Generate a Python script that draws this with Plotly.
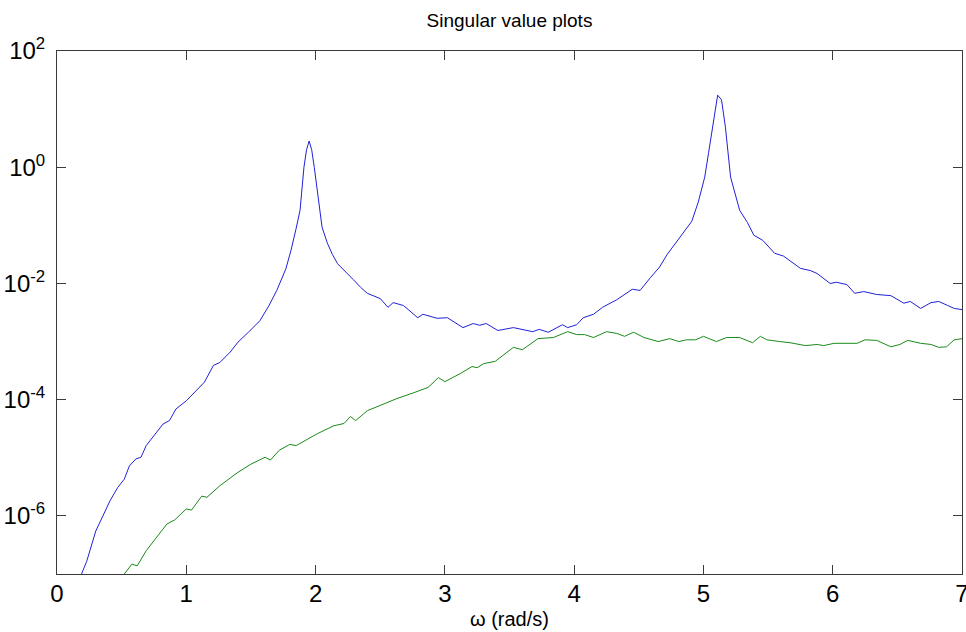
import plotly.graph_objects as go

# frequency (rad/s) and log10 of singular values
w_sv1 = [0.12, 0.19, 0.23, 0.30, 0.41, 0.47, 0.52, 0.56, 0.61, 0.65, 0.69, 0.77, 0.82, 0.87, 0.92,
         1.00, 1.08, 1.14, 1.21, 1.26, 1.34, 1.40, 1.48, 1.57, 1.64, 1.70, 1.77, 1.81, 1.85, 1.88,
         1.91, 1.93, 1.95, 1.97, 1.99, 2.02, 2.05, 2.09, 2.13, 2.17, 2.22, 2.29, 2.35, 2.40, 2.50,
         2.56, 2.60, 2.68, 2.79, 2.83, 2.94, 3.02, 3.14, 3.22, 3.27, 3.32, 3.41, 3.53, 3.68, 3.73,
         3.80, 3.91, 3.95, 4.02, 4.07, 4.15, 4.22, 4.33, 4.45, 4.51, 4.59, 4.66, 4.72, 4.84, 4.91,
         4.96, 5.01, 5.04, 5.07, 5.11, 5.14, 5.17, 5.21, 5.28, 5.34, 5.39, 5.46, 5.55, 5.62, 5.75,
         5.83, 5.88, 5.98, 6.03, 6.11, 6.17, 6.24, 6.34, 6.45, 6.55, 6.60, 6.68, 6.76, 6.82, 6.89,
         6.94, 7.00]
log_sv1 = [-7.6, -7.00, -6.78, -6.26, -5.74, -5.51, -5.37, -5.14, -5.02, -4.99, -4.79, -4.56, -4.42, -4.36, -4.16,
           -4.02, -3.84, -3.70, -3.41, -3.36, -3.18, -3.01, -2.84, -2.64, -2.38, -2.12, -1.75, -1.43, -1.05, -0.74,
           0.00, 0.30, 0.45, 0.30, 0.00, -0.55, -1.03, -1.30, -1.50, -1.66, -1.78, -1.93, -2.07, -2.17, -2.26,
           -2.41, -2.33, -2.38, -2.59, -2.53, -2.60, -2.59, -2.76, -2.69, -2.72, -2.69, -2.81, -2.76, -2.83, -2.79,
           -2.84, -2.71, -2.76, -2.71, -2.59, -2.53, -2.41, -2.28, -2.10, -2.12, -1.90, -1.72, -1.50, -1.14, -0.93,
           -0.60, -0.17, 0.25, 0.69, 1.24, 1.16, 0.69, -0.17, -0.74, -0.95, -1.17, -1.26, -1.48, -1.53, -1.74,
           -1.78, -1.83, -2.00, -1.98, -2.02, -2.17, -2.14, -2.19, -2.21, -2.34, -2.31, -2.43, -2.33, -2.31, -2.38,
           -2.43, -2.45]

w_sv2 = [0.45, 0.52, 0.58, 0.62, 0.69, 0.77, 0.85, 0.91, 1.00, 1.04, 1.12, 1.16, 1.26, 1.40, 1.50,
         1.61, 1.65, 1.72, 1.80, 1.85, 1.94, 2.01, 2.14, 2.22, 2.27, 2.31, 2.40, 2.53, 2.63, 2.76,
         2.87, 2.95, 3.00, 3.12, 3.21, 3.25, 3.30, 3.39, 3.45, 3.53, 3.60, 3.66, 3.72, 3.84, 3.95,
         4.02, 4.08, 4.15, 4.25, 4.33, 4.39, 4.46, 4.54, 4.65, 4.74, 4.81, 4.87, 4.94, 5.00, 5.10,
         5.18, 5.28, 5.38, 5.44, 5.49, 5.59, 5.67, 5.79, 5.88, 5.93, 6.01, 6.19, 6.25, 6.34, 6.45,
         6.52, 6.58, 6.68, 6.76, 6.82, 6.88, 6.94, 7.00]
log_sv2 = [-7.4, -7.00, -6.83, -6.86, -6.60, -6.37, -6.14, -6.07, -5.88, -5.90, -5.66, -5.68, -5.48, -5.25, -5.11,
           -4.99, -5.04, -4.87, -4.77, -4.79, -4.68, -4.59, -4.45, -4.41, -4.29, -4.36, -4.19, -4.07, -3.98, -3.88,
           -3.79, -3.62, -3.69, -3.55, -3.43, -3.45, -3.38, -3.34, -3.24, -3.10, -3.14, -3.05, -2.95, -2.93, -2.83,
           -2.88, -2.88, -2.93, -2.83, -2.86, -2.91, -2.84, -2.93, -3.00, -2.95, -3.00, -2.97, -2.97, -2.91, -3.00,
           -2.93, -2.93, -3.02, -2.91, -2.97, -3.00, -3.02, -3.07, -3.05, -3.07, -3.03, -3.03, -2.97, -2.98, -3.09,
           -3.05, -2.98, -3.03, -3.05, -3.10, -3.09, -2.97, -2.95]

x_ticks = [0, 1, 2, 3, 4, 5, 6, 7]
y_tick_exp = [-6, -4, -2, 0, 2]

sv1 = [10 ** v for v in log_sv1]
sv2 = [10 ** v for v in log_sv2]

FONT = "Liberation Sans, Arial, Helvetica, sans-serif"
AX = "#3a3a3a"

fig = go.Figure()
fig.add_trace(go.Scatter(x=w_sv1, y=sv1, mode="lines",
                         line=dict(color="#2020d8", width=1), showlegend=False))
fig.add_trace(go.Scatter(x=w_sv2, y=sv2, mode="lines",
                         line=dict(color="#1a8a1a", width=1), showlegend=False))

fig.update_layout(
    width=966, height=632,
    margin=dict(l=57, r=4, t=51, b=58),
    paper_bgcolor="white", plot_bgcolor="white",
    font=dict(family=FONT, color="black"),
    title=dict(text="Singular value plots", x=0.5, xref="paper", xanchor="center",
               y=1 - 20 / 632, yref="container", yanchor="middle",
               font=dict(size=19, family=FONT, color="black")),
)
fig.update_xaxes(range=[0, 7], tickvals=x_ticks, ticktext=[str(v) for v in x_ticks],
                 showgrid=False, zeroline=False, showline=True, linecolor=AX, linewidth=1,
                 mirror="ticks", ticks="inside", ticklen=9, tickcolor=AX,
                 ticklabeloverflow="allow", automargin=False,
                 tickfont=dict(size=24, family=FONT, color="black"), ticklabelstandoff=-2)
fig.update_yaxes(type="log", range=[-7, 2], tickvals=[10 ** e for e in y_tick_exp],
                 ticktext=["10<sup>%d</sup>" % e for e in y_tick_exp],
                 showgrid=False, zeroline=False, showline=True, linecolor=AX, linewidth=1,
                 mirror="ticks", ticks="inside", ticklen=9, tickcolor=AX,
                 ticklabeloverflow="allow", automargin=False,
                 tickfont=dict(size=24, family=FONT, color="black"), ticklabelstandoff=6)
fig.add_annotation(text="\u03c9 (rad/s)", x=0.5, xref="paper", y=0, yref="paper",
                   yanchor="middle", yshift=-45, showarrow=False,
                   font=dict(size=20, family=FONT, color="black"))

fig.write_html("out.html")
